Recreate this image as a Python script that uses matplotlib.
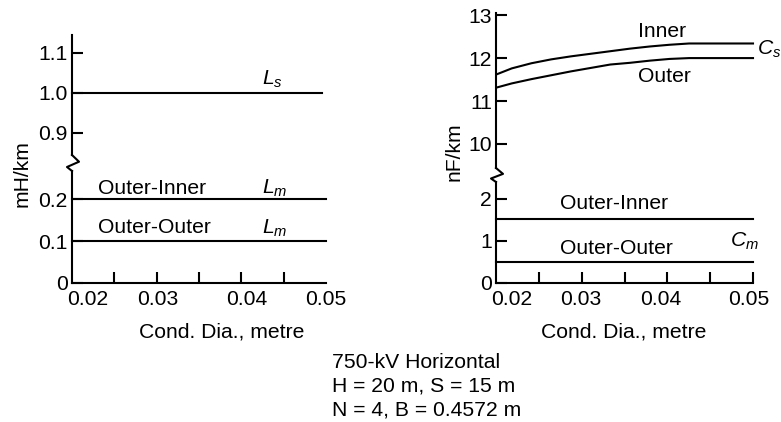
import numpy as np
import matplotlib
matplotlib.use("Agg")
import matplotlib.pyplot as plt
from matplotlib.lines import Line2D

plt.rcParams['font.family'] = ['Liberation Sans', 'DejaVu Sans']
plt.rcParams['mathtext.fontset'] = 'custom'
plt.rcParams['mathtext.it'] = 'Liberation Sans:italic'
plt.rcParams['mathtext.rm'] = 'Liberation Sans'

FS = 15.2
LW = 1.5

# ---------------- data ----------------
# Left panel: inductance (mH/km), constant with conductor diameter
L_x = [0.018, 0.0495]
L_s = [1.0, 1.0]
Lm_x = [0.018, 0.05]
Lm_outer_inner = [0.2, 0.2]
Lm_outer_outer = [0.1, 0.1]

# Right panel: capacitance (nF/km)
cs_x = [0.0182, 0.02, 0.0225, 0.025, 0.0275, 0.03, 0.0325, 0.035, 0.0375, 0.04, 0.0425, 0.0506]
cs_inner = [11.63, 11.76, 11.88, 11.97, 12.04, 12.10, 12.16, 12.22, 12.27, 12.31, 12.34, 12.34]
cs_outer = [11.32, 11.41, 11.51, 11.60, 11.69, 11.77, 11.85, 11.89, 11.94, 11.98, 12.00, 12.00]
cm_x = [0.018, 0.0506]
cm_outer_inner = [1.52, 1.52]
cm_outer_outer = [0.49, 0.49]

x_tick_labels = ['0.02', '0.03', '0.04', '0.05']
left_label_pos = [0.02, 0.0288, 0.040, 0.05]
right_label_pos = [0.02, 0.0288, 0.0389, 0.05]
left_top_ticks = [0.9, 1.0, 1.1]
left_top_labels = ['0.9', '1.0', '1.1']
left_bot_ticks = [0.0, 0.1, 0.2]
left_bot_labels = ['0', '0.1', '0.2']
right_top_ticks = [10, 11, 12, 13]
right_bot_ticks = [0, 1, 2]

W, H = 781, 422
fig = plt.figure(figsize=(W / 100, H / 100), dpi=100)


def rect(x0, x1, ytop, ybot):
    return [x0 / W, 1 - ybot / H, (x1 - x0) / W, (ybot - ytop) / H]


ax_lt = fig.add_axes(rect(72, 326, 35, 155))
ax_lb = fig.add_axes(rect(72, 326, 171, 283))
ax_rt = fig.add_axes(rect(496, 753, 13, 168))
ax_rb = fig.add_axes(rect(496, 753, 182, 283))

for ax in (ax_lt, ax_lb, ax_rt, ax_rb):
    for s in ('top', 'right'):
        ax.spines[s].set_visible(False)
    ax.spines['left'].set_linewidth(LW)
    ax.spines['bottom'].set_linewidth(LW)
    ax.tick_params(axis='y', direction='in', length=8, width=LW, labelsize=FS, pad=3)
    ax.patch.set_alpha(0)

for ax in (ax_lt, ax_rt):
    ax.spines['bottom'].set_visible(False)
    ax.set_xticks([])

# x limits
ax_lt.set_xlim(0.018, 0.05)
ax_lb.set_xlim(0.018, 0.05)
ax_rt.set_xlim(0.018, 0.0506)
ax_rb.set_xlim(0.018, 0.0506)

# y limits
ax_lt.set_ylim(0.845, 1.145)
ax_lb.set_ylim(0.0, 0.2667)
ax_rt.set_ylim(9.44, 13.05)
ax_rb.set_ylim(0.0, 2.40)

ax_lt.set_yticks(left_top_ticks, left_top_labels)
ax_lb.set_yticks(left_bot_ticks, left_bot_labels)
ax_rt.set_yticks(right_top_ticks, [str(v) for v in right_top_ticks])
ax_rb.set_yticks(right_bot_ticks, [str(v) for v in right_bot_ticks])

for ax, pos in ((ax_lb, left_label_pos), (ax_rb, right_label_pos)):
    lo, hi = ax.get_xlim()
    ax.set_xticks(pos, x_tick_labels)
    ax.set_xticks(np.linspace(lo, hi, 7)[1:], minor=True)
    ax.tick_params(axis='x', which='major', length=0, labelsize=FS, pad=5)
    ax.tick_params(axis='x', which='minor', direction='in', length=8, width=LW)

# lines
ax_lt.plot(L_x, L_s, color='black', lw=LW, clip_on=False)
ax_lb.plot(Lm_x, Lm_outer_inner, color='black', lw=LW, clip_on=False)
ax_lb.plot(Lm_x, Lm_outer_outer, color='black', lw=LW, clip_on=False)
ax_rt.plot(cs_x, cs_inner, color='black', lw=LW, clip_on=False)
ax_rt.plot(cs_x, cs_outer, color='black', lw=LW, clip_on=False)
ax_rb.plot(cm_x, cm_outer_inner, color='black', lw=LW, clip_on=False)
ax_rb.plot(cm_x, cm_outer_outer, color='black', lw=LW, clip_on=False)

# annotations
kw = dict(fontsize=FS, va='center', ha='left')
ax_lt.text(0.0419, 1.035, r'$L_s$', **kw)
ax_lb.text(0.0213, 0.226, 'Outer-Inner', **kw)
ax_lb.text(0.0419, 0.226, r'$L_m$', **kw)
ax_lb.text(0.0213, 0.131, 'Outer-Outer', **kw)
ax_lb.text(0.0419, 0.131, r'$L_m$', **kw)

ax_rt.text(0.0360, 12.63, 'Inner', **kw)
ax_rt.text(0.0511, 12.21, r'$C_s$', **kw)
ax_rt.text(0.0360, 11.56, 'Outer', **kw)
ax_rb.text(0.0261, 1.88, 'Outer-Inner', **kw)
ax_rb.text(0.0477, 1.0, r'$C_m$', **kw)
ax_rb.text(0.0261, 0.81, 'Outer-Outer', **kw)

# axis break squiggles (figure pixels)
def squiggle(x, ytop, ybot):
    xs = [x, x + 7, x - 5, x]
    ys = [ytop, ytop + (ybot - ytop) * 0.42, ytop + (ybot - ytop) * 0.75, ybot]
    fig.add_artist(Line2D([v / W for v in xs], [1 - v / H for v in ys],
                          transform=fig.transFigure, color='black', lw=LW))

squiggle(72, 155, 171)
squiggle(496, 168, 182)

# axis labels
fig.text(22 / W, 1 - 174 / H, 'mH/km', rotation=90, fontsize=FS, ha='center', va='center')
fig.text(454 / W, 1 - 152 / H, 'nF/km', rotation=90, fontsize=FS, ha='center', va='center')
fig.text(222 / W, 1 - 338 / H, 'Cond. Dia., metre', fontsize=FS, ha='center', va='baseline')
fig.text(624 / W, 1 - 338 / H, 'Cond. Dia., metre', fontsize=FS, ha='center', va='baseline')

caption = ['750-kV Horizontal', 'H = 20 m, S = 15 m', 'N = 4, B = 0.4572 m']
for line, yb in zip(caption, [368, 392, 415]):
    fig.text(332 / W, 1 - yb / H, line, fontsize=FS, ha='left', va='baseline')

fig.savefig('out.png', dpi=100)
